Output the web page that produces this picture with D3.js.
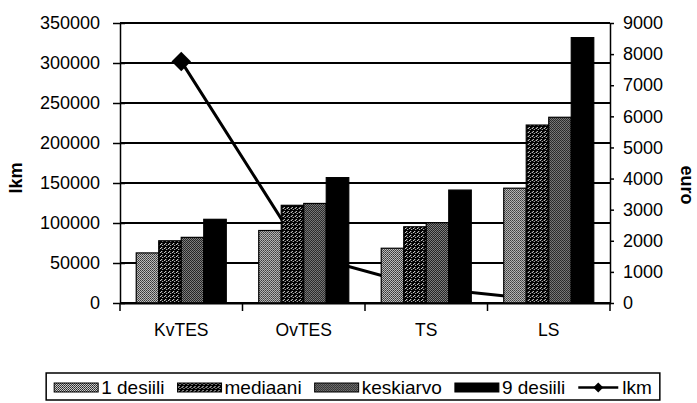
<!DOCTYPE html>
<html>
<head>
<meta charset="utf-8">
<script src="https://cdn.jsdelivr.net/npm/d3@7"></script>
<style>
body { margin: 0; background: #fff; }
text { font-family: "Liberation Sans", Arial, sans-serif; fill: #000; }
</style>
</head>
<body>
<svg width="697" height="403"></svg>
<script>
// data
const categories = ["KvTES", "OvTES", "TS", "LS"]
const seriesNames = ["1 desiili", "mediaani", "keskiarvo", "9 desiili"]
const desiili1 = [1610, 2330, 1760, 3690]
const mediaani = [2000, 3140, 2450, 5720]
const keskiarvo = [2110, 3200, 2580, 5970]
const desiili9 = [2690, 4030, 3630, 8530]
const lkm = [302000, 61000, 19000, 3000]
const lkmTicks = [0, 50000, 100000, 150000, 200000, 250000, 300000, 350000]
const euroTicks = [0, 1000, 2000, 3000, 4000, 5000, 6000, 7000, 8000, 9000]

const seriesValues = [desiili1, mediaani, keskiarvo, desiili9]
const fills = ["url(#p1)", "url(#p2)", "url(#p3)", "#000"]

let svg = d3.select("svg")
svg.append("rect").attr("width", 697).attr("height", 403).attr("fill", "#fff")

let pLeft = 120, pRight = 610, pTop = 23, pBottom = 303

// fill patterns
let defs = svg.append("defs")
let pattern = (id, size, bg, dots) => {
    let p = defs.append("pattern").attr("id", id)
        .attr("width", size).attr("height", size)
        .attr("patternUnits", "userSpaceOnUse")
    p.append("rect").attr("width", size).attr("height", size).attr("fill", bg)
    dots.forEach(d => {
        p.append("rect").attr("x", d[0]).attr("y", d[1]).attr("width", 1).attr("height", 1).attr("fill", d[2])
    })
}
pattern("p1", 2, "#eee", [[0, 0, "#000"], [1, 1, "#222"]])
pattern("p2", 4, "#000", [[0, 0, "#fff"], [2, 1, "#ddd"], [1, 3, "#fff"]])
pattern("p3", 2, "#000", [[1, 0, "#999"], [0, 1, "#aaa"]])

defs.append("clipPath").attr("id", "plot")
    .append("rect").attr("x", pLeft).attr("y", 0).attr("width", pRight - pLeft).attr("height", pBottom)

let x = d3.scaleBand().domain(categories).range([pLeft, pRight])
    .paddingInner(0.265).paddingOuter(0.1325)
let xs = d3.scaleBand().domain(seriesNames).range([0, x.bandwidth()])
let yL = d3.scaleLinear().domain([0, 350000]).range([pBottom, pTop])
let yR = d3.scaleLinear().domain([0, 9000]).range([pBottom, pTop])

// gridlines
svg.append("g").selectAll("line")
    .data(lkmTicks)
    .join("line")
    .attr("x1", pLeft).attr("x2", pRight)
    .attr("y1", d => yL(d)).attr("y2", d => yL(d))
    .attr("stroke", "#000").attr("stroke-width", 2)

// lkm line (left axis), sits behind the bars
let cx = c => x(c) + x.bandwidth() / 2
let line = d3.line().x((d, i) => cx(categories[i])).y(d => yL(d))
let lineG = svg.append("g").attr("clip-path", "url(#plot)")
lineG.append("path").datum(lkm)
    .attr("d", line)
    .attr("fill", "none").attr("stroke", "#000").attr("stroke-width", 3)

lineG.selectAll("path.mk")
    .data(lkm)
    .join("path")
    .attr("class", "mk")
    .attr("d", d3.symbol(d3.symbolSquare, 190))
    .attr("transform", (d, i) => "translate(" + cx(categories[i]) + "," + yL(d) + ") rotate(45)")
    .attr("fill", "#000")

// bars (euro, right axis)
let groups = svg.append("g").selectAll("g")
    .data(categories)
    .join("g")
    .attr("transform", d => "translate(" + x(d) + ",0)")

groups.selectAll("rect")
    .data((c, i) => seriesNames.map((s, j) => ({ s: s, j: j, v: seriesValues[j][i] })))
    .join("rect")
    .attr("x", d => xs(d.s))
    .attr("width", xs.bandwidth())
    .attr("y", d => yR(d.v))
    .attr("height", d => pBottom - yR(d.v))
    .attr("fill", d => fills[d.j])
    .attr("stroke", "#000")
    .attr("stroke-width", 1.2)

// axes
let axL = svg.append("g").attr("transform", "translate(" + pLeft + ",0)")
    .call(d3.axisLeft(yL).tickValues(lkmTicks).tickFormat(d3.format("d")).tickSizeInner(7).tickSizeOuter(0).tickPadding(13))
let axR = svg.append("g").attr("transform", "translate(" + pRight + ",0)")
    .call(d3.axisRight(yR).tickValues(euroTicks).tickFormat(d3.format("d")).tickSizeInner(4).tickSizeOuter(0).tickPadding(9))
let axB = svg.append("g").attr("transform", "translate(0," + pBottom + ")")
    .call(d3.axisBottom(x).tickSize(0).tickPadding(21))

let half = x.step() * 0.1325
svg.append("g").selectAll("line")
    .data([pLeft, x(categories[1]) - half, x(categories[2]) - half, x(categories[3]) - half, pRight])
    .join("line")
    .attr("x1", d => d).attr("x2", d => d)
    .attr("y1", pBottom).attr("y2", pBottom + 8)
    .attr("stroke", "#000").attr("stroke-width", 1.5)

;[axL, axR, axB].forEach(a => {
    a.selectAll("path.domain").attr("stroke", "#000").attr("stroke-width", 1.5)
    a.selectAll(".tick line").attr("stroke", "#000").attr("stroke-width", 1.5)
    a.selectAll("text").style("font-size", "18px").attr("fill", "#000")
})
axB.selectAll("text").style("font-size", "17.5px")
axL.selectAll(".tick line").attr("x2", 5).attr("x1", -7)
axB.select("path.domain").attr("stroke-width", 2)

// axis titles
svg.append("text")
    .attr("transform", "translate(22,178) rotate(-90)")
    .attr("text-anchor", "middle")
    .style("font-size", "18px").style("font-weight", "bold")
    .text("lkm")
svg.append("text")
    .attr("transform", "translate(681,185) rotate(90)")
    .attr("text-anchor", "middle")
    .style("font-size", "18px").style("font-weight", "bold")
    .text("euro")

// legend
let leg = svg.append("g")
let lx = 0
let items = seriesNames.concat(["lkm"])
items.forEach((name, i) => {
    let g = leg.append("g").attr("transform", "translate(" + lx + ",0)")
    if (i < 4) {
        g.append("rect").attr("x", 0).attr("y", -8).attr("width", 44).attr("height", 9)
            .attr("fill", fills[i]).attr("stroke", "#000").attr("stroke-width", 1)
    } else {
        g.append("line").attr("x1", 0).attr("x2", 40).attr("y1", -3.5).attr("y2", -3.5)
            .attr("stroke", "#000").attr("stroke-width", 2.5)
        g.append("path").attr("d", d3.symbol(d3.symbolSquare, 50))
            .attr("transform", "translate(20,-3.5) rotate(45)").attr("fill", "#000")
    }
    let t = g.append("text").attr("x", i < 4 ? 47 : 44).attr("y", 3)
        .style("font-size", "19px").text(name)
    lx += (i < 4 ? 47 : 44) + t.node().getComputedTextLength() + 13
})
let legW = lx - 13 + 16
let legX = 353 - legW / 2
leg.attr("transform", "translate(" + (legX + 8) + ",391)")
svg.insert("rect", "g")
    .attr("x", legX).attr("y", 373).attr("width", legW).attr("height", 27)
    .attr("fill", "#fff").attr("stroke", "#000").attr("stroke-width", 1.5)
</script>
</body>
</html>
